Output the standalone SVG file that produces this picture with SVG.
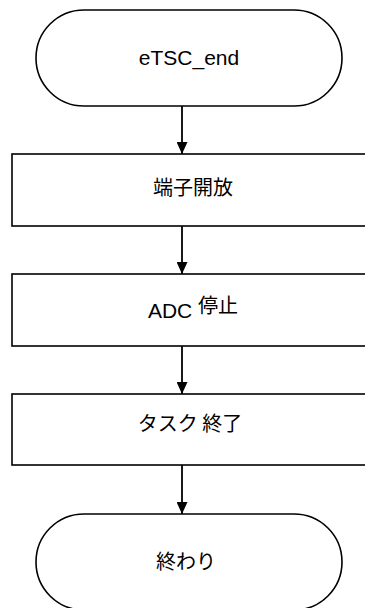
<svg xmlns="http://www.w3.org/2000/svg" width="365" height="608" viewBox="0 0 365 608">
<defs>
<style>
.shape{fill:#fff;stroke:#000;stroke-width:1.6}
.lbl{font-family:"Liberation Sans","Noto Sans CJK JP",sans-serif;font-size:21px;fill:#000;text-anchor:middle}
.cjk{font-family:"Noto Sans CJK JP","Liberation Sans",sans-serif;font-size:20px;fill:#000;text-anchor:middle}
.conn{stroke:#000;stroke-width:1.8;fill:none}
</style>
<marker id="arr" viewBox="0 0 12 11" refX="12" refY="5.5" markerWidth="12" markerHeight="11" markerUnits="userSpaceOnUse" orient="auto">
<path d="M0,0 L12,5.5 L0,11 Z" fill="#000"/>
</marker>
</defs>
<rect width="365" height="608" fill="#fff"/>
<g id="connectors">
<line class="conn" x1="182" y1="106" x2="182" y2="154" marker-end="url(#arr)"/>
<line class="conn" x1="182" y1="226" x2="182" y2="274" marker-end="url(#arr)"/>
<line class="conn" x1="182" y1="346" x2="182" y2="394" marker-end="url(#arr)"/>
<line class="conn" x1="182" y1="465" x2="182" y2="514" marker-end="url(#arr)"/>
</g>
<g id="start">
<rect class="shape" x="36" y="10" width="306" height="96" rx="48" ry="48"/>
<text class="lbl" x="189" y="65">eTSC_end</text>
</g>
<g id="release">
<rect class="shape" x="12" y="154" width="362" height="72"/>
<text class="cjk" x="193" y="195">端子開放</text>
</g>
<g id="adcstop">
<rect class="shape" x="12" y="274" width="362" height="72"/>
<text class="lbl" x="193" y="318">ADC <tspan class="cjk" dy="-5" style="font-family:'Noto Sans CJK JP',sans-serif;font-size:20px">停止</tspan></text>
</g>
<g id="taskend">
<rect class="shape" x="12" y="394" width="362" height="71"/>
<text class="cjk" x="190" y="431">タスク 終了</text>
</g>
<g id="end">
<rect class="shape" x="36" y="514" width="306" height="96" rx="48" ry="48"/>
<text class="cjk" x="186" y="569">終わり</text>
</g>
</svg>
